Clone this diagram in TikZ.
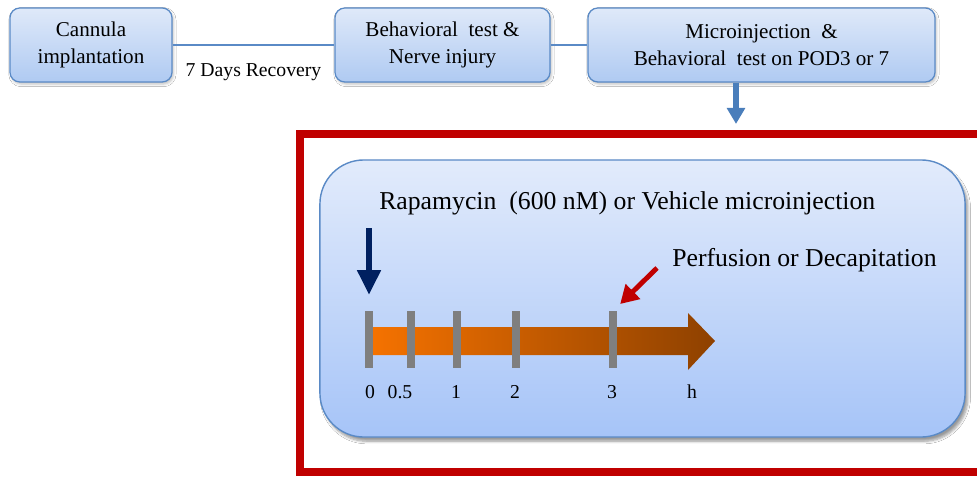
\documentclass[tikz,border=0pt]{standalone}
\usepackage{fontspec}
\setmainfont{Liberation Serif}
\usetikzlibrary{arrows.meta,positioning,shadows.blur}
\definecolor{Edge}{HTML}{5A8AC6}
\definecolor{BoxTop}{HTML}{DFE9F9}
\definecolor{BoxBot}{HTML}{AFCAF2}
\definecolor{PanelTop}{HTML}{E2EBFB}
\definecolor{PanelBot}{HTML}{A6C4F8}
\definecolor{Frame}{HTML}{C00000}
\definecolor{Drop}{HTML}{4A7EBB}
\definecolor{Navy}{HTML}{002060}
\definecolor{TickGray}{HTML}{7F7F7F}
\definecolor{OrangeA}{HTML}{F57200}
\definecolor{OrangeB}{HTML}{8E4100}

\begin{document}
\begin{tikzpicture}[x=0.025cm,y=-0.025cm,
      stage/.style={draw=Edge,line width=0.9pt,rounded corners=7pt,
        top color=BoxTop,bottom color=BoxBot,minimum height=1.85cm,align=center,
        font=\fontsize{15}{19}\selectfont,
        blur shadow={shadow xshift=1pt,shadow yshift=-1.5pt,shadow opacity=25,shadow blur steps=4}},
      link/.style={draw=Edge,line width=1pt},
      fat/.style={line width=#1},
      tick/.style={draw=TickGray,line width=5pt},
      lab/.style={font=\fontsize{14}{16}\selectfont},
      big/.style={font=\fontsize{18.3}{22}\selectfont,inner sep=0pt}]
      \clip (0,0) rectangle (977,478);
      \fill[white] (0,0) rectangle (977,478);
      % top row
      \node[stage,minimum width=4.05cm] (cannula) at (91,45) {Cannula\\implantation};
      \node[stage,minimum width=5.375cm] (nerve) at (442.5,45) {Behavioral~ test \&\\Nerve injury};
      \node[stage,minimum width=8.675cm] (micro) at (761.5,45) {Microinjection~ \&\\Behavioral~ test on POD3 or 7};
      \draw[link] (cannula) -- (nerve);
      \draw[link] (nerve) -- (micro);
      \node[font=\fontsize{14}{16}\selectfont,below=0.45cm of $(cannula.east)!0.5!(nerve.west)$,inner sep=0pt] (recovery) {7 Days Recovery};
      % frame and panel
      \node[draw=Frame,line width=5.7pt,minimum width=17.5cm,minimum height=8.45cm] (frame) at (650,303) {};
      \node[draw=Edge,line width=1pt,rounded corners=1.1cm,top color=PanelTop,bottom color=PanelBot,
        minimum width=16.125cm,minimum height=6.925cm,
        blur shadow={shadow xshift=2pt,shadow yshift=-3pt,shadow opacity=40,shadow blur steps=6}] (panel) at (642.5,298.5) {};
      \coordinate (dropx) at (736,0);
      \draw[fat=4.3pt,draw=Drop,-{Triangle[width=0.44cm,length=0.4cm]},shorten >=0.15cm]
        (micro.south -| dropx) -- (frame.north -| dropx);
      % timeline
      \shade[left color=OrangeA,right color=OrangeB]
        (372,327) -- (688,327) -- (688,313) -- (715,341) -- (688,370) -- (688,355) -- (372,355) -- cycle;
      \foreach \x [count=\i from 0] in {369,411,457,516,613}
        \draw[tick] (\x,311) coordinate (t\i) -- (\x,368);
      \foreach \x/\t in {370/0,400/0.5,456/1,515/2,612/3,692/h}
        \node[lab] at (\x,392) {\t};
      % labels and pointers
      \node[big,anchor=west] (rapa) at (379,203) {Rapamycin~ (600 nM) or Vehicle microinjection};
      \node[big,anchor=west] (perf) at (672,260) {Perfusion or Decapitation};
      \coordinate (inject) at (369,228);
      \coordinate (pointer) at (657,268);
      \draw[fat=4.3pt,draw=Navy,-{Triangle[width=0.56cm,length=0.62cm]},shorten >=0.4cm] (inject) -- (t0);
      \draw[fat=3.5pt,draw=Frame,-{Triangle[width=0.5cm,length=0.45cm]},shorten >=0.25cm] (pointer) -- (t4);
    \end{tikzpicture}
\end{document}
